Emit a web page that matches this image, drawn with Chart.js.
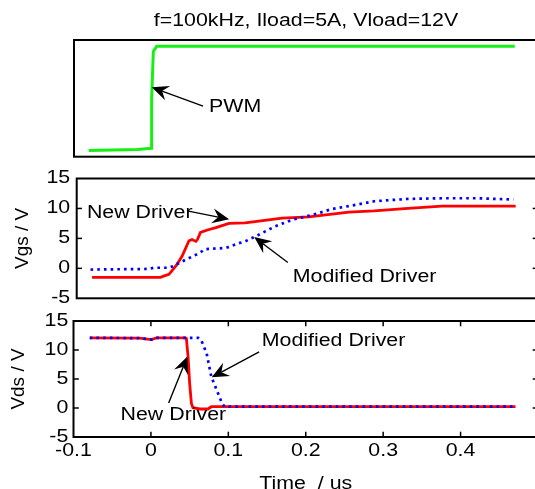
<!DOCTYPE html>
<html><head><meta charset="utf-8">
<script src="https://cdn.jsdelivr.net/npm/chart.js@4.4.1/dist/chart.umd.min.js"></script>
<style>
html,body{margin:0;padding:0;background:#fff;overflow:hidden;width:535px;height:489px;}
canvas{position:absolute;left:0;top:0;}
</style></head><body>
<canvas id="c1" width="550" height="500"></canvas>
<canvas id="c2" width="550" height="500"></canvas>
<canvas id="c3" width="550" height="500"></canvas>
<script>
// ---------- data ----------
const titleText = 'f=100kHz, Iload=5A, Vload=12V';
const seriesNames = ['New Driver', 'Modified Driver'];
const xTitle = 'Time  / us';
const vgsTitle = 'Vgs / V';
const vdsTitle = 'Vds / V';
const timeTicks = [-0.1, 0, 0.1, 0.2, 0.3, 0.4];
const voltTicks = [-5, 0, 5, 10, 15];

const pwmTime = [-0.081, -0.018, 0.0, 0.0004, 0.0026, 0.007, 0.47];
const pwmVolt = [0.0, 0.05, 0.11, 2.5, 4.75, 5.0, 5.0];

const vgsNewTime = [-0.080, 0.009, 0.013, 0.020, 0.029, 0.037, 0.046, 0.050, 0.055, 0.057, 0.061, 0.070, 0.081, 0.098, 0.119, 0.137, 0.167, 0.202, 0.254, 0.287, 0.331, 0.375, 0.471];
const vgsNewVolt = [-1.5, -1.5, -1.3, -1.0, 0.4, 2.0, 4.6, 4.8, 4.5, 4.8, 6.0, 6.4, 6.8, 7.5, 7.6, 7.9, 8.4, 8.6, 9.4, 9.6, 10.0, 10.4, 10.4];
const vgsModTime = [-0.082, -0.006, 0.0, 0.02, 0.026, 0.041, 0.059, 0.067, 0.078, 0.094, 0.111, 0.119, 0.132, 0.158, 0.180, 0.206, 0.232, 0.254, 0.287, 0.331, 0.375, 0.420, 0.468];
const vgsModVolt = [-0.2, -0.1, 0.1, 0.1, 0.4, 1.4, 2.5, 3.2, 3.3, 3.4, 4.2, 4.5, 5.3, 7.0, 8.1, 8.9, 9.9, 10.4, 11.2, 11.6, 11.7, 11.7, 11.5];

const vdsNewTime = [-0.079, -0.015, 0.0005, 0.007, 0.0445, 0.0458, 0.048, 0.050, 0.0523, 0.0543, 0.063, 0.0737, 0.078, 0.471];
const vdsNewVolt = [12.1, 12.05, 11.8, 12.1, 12.1, 12.0, 8.8, 4.3, 0.8, 0.05, -0.17, -0.17, 0.22, 0.22];
const vdsModTime = [-0.079, -0.015, 0.0005, 0.007, 0.061, 0.065, 0.072, 0.078, 0.085, 0.091, 0.095, 0.471];
const vdsModVolt = [12.1, 12.05, 11.8, 12.1, 12.1, 11.7, 9.4, 5.4, 3.1, 1.1, 0.22, 0.22];

// annotation positions (data coordinates)
const pwmNotes = [{text: 'PWM', tip: [0.0005, 3.03], tail: [0.0669, 2.13], at: [0.0746, 2.06]}];
const vgsNotes = [
  {text: seriesNames[0], tip: [0.0983, 8.2], tail: [0.0453, 9.55], at: [-0.0867, 9.28]},
  {text: seriesNames[1], tip: [0.1309, 5.22], tail: [0.1746, 0.97], at: [0.1811, -1.5]}
];
const vdsNotes = [
  {text: seriesNames[1], tip: [0.0785, 5.29], tail: [0.1398, 9.66], at: [0.1432, 11.55]},
  {text: seriesNames[0], tip: [0.0471, 8.88], tail: [0.0229, 0.86], at: [-0.0392, -1.3]}
];

// ---------- styling ----------
const FONT = "'Liberation Sans', Arial, Helvetica, sans-serif";
const FS = 17.5;
const STRETCH = 1.22;
Chart.defaults.font.family = FONT;
Chart.defaults.font.size = FS;
Chart.defaults.color = '#000';

const pts = (ts, vs) => ts.map((t, i) => ({x: t, y: vs[i]}));

const stretchPlugin = {
  id: 'stretch',
  beforeInit(chart) {
    const ctx = chart.ctx;
    const orig = ctx.fillText.bind(ctx);
    ctx.fillText = function (text, x, y, maxWidth) {
      const m = ctx.getTransform();
      if (Math.abs(m.b) > 1e-6 || Math.abs(m.c) > 1e-6) {
        return maxWidth === undefined ? orig(text, x, y) : orig(text, x, y, maxWidth);
      }
      ctx.save();
      ctx.translate(x, y);
      ctx.scale(STRETCH, 1);
      if (maxWidth === undefined) orig(text, 0, 0); else orig(text, 0, 0, maxWidth / STRETCH);
      ctx.restore();
    };
  }
};

const framePlugin = {
  id: 'frame',
  afterDraw(chart, args, opts) {
    const {left, right, top, bottom} = chart.chartArea;
    const ctx = chart.ctx;
    const L = 5.3;
    ctx.save();
    ctx.strokeStyle = '#000';
    ctx.lineWidth = 1.5;
    const seg = (a, b, c, d) => { ctx.beginPath(); ctx.moveTo(a, b); ctx.lineTo(c, d); ctx.stroke(); };
    if (opts.yTicks) {
      const ys = chart.scales.y;
      ys.ticks.forEach(t => {
        if (t.value <= ys.min || t.value >= ys.max) return;
        const y = ys.getPixelForValue(t.value);
        seg(left, y, left + L, y);
        seg(right, y, right - L, y);
      });
    }
    if (opts.xTicks) {
      const xs = chart.scales.x;
      xs.ticks.forEach(t => {
        if (t.value <= xs.min || t.value >= xs.max) return;
        const x = xs.getPixelForValue(t.value);
        seg(x, bottom, x, bottom - L);
        seg(x, top, x, top + L);
      });
    }
    ctx.lineWidth = 2;
    ctx.strokeRect(left, top, right - left, bottom - top);
    ctx.restore();
  }
};

const arrowPlugin = {
  id: 'arrows',
  afterDatasetsDraw(chart, args, opts) {
    const ctx = chart.ctx, xs = chart.scales.x, ys = chart.scales.y;
    (opts.items || []).forEach(a => {
      const tx = xs.getPixelForValue(a.tip[0]), ty = ys.getPixelForValue(a.tip[1]);
      const sx = xs.getPixelForValue(a.tail[0]), sy = ys.getPixelForValue(a.tail[1]);
      const dx = tx - sx, dy = ty - sy, len = Math.hypot(dx, dy);
      const ux = dx / len, uy = dy / len, px = -uy, py = ux;
      const hl = 17, hw = 7.5, notch = 11;
      ctx.save();
      ctx.strokeStyle = '#000';
      ctx.fillStyle = '#000';
      ctx.lineWidth = 1.4;
      ctx.beginPath();
      ctx.moveTo(sx, sy);
      ctx.lineTo(tx - ux * notch, ty - uy * notch);
      ctx.stroke();
      ctx.beginPath();
      ctx.moveTo(tx, ty);
      ctx.lineTo(tx - ux * hl + px * hw, ty - uy * hl + py * hw);
      ctx.lineTo(tx - ux * notch, ty - uy * notch);
      ctx.lineTo(tx - ux * hl - px * hw, ty - uy * hl - py * hw);
      ctx.closePath();
      ctx.fill();
      ctx.font = FS + 'px ' + FONT;
      ctx.textAlign = 'left';
      ctx.textBaseline = 'middle';
      ctx.fillText(a.text, xs.getPixelForValue(a.at[0]), ys.getPixelForValue(a.at[1]));
      ctx.restore();
    });
  }
};

const W = 550, H = 500;
const X_MIN = -0.1, X_MAX = 0.5;
const RIGHT = 538;

function baseOptions(padding) {
  return {
    responsive: false, maintainAspectRatio: false, animation: false, events: [], devicePixelRatio: 1,
    layout: {padding},
    plugins: {legend: {display: false}, tooltip: {enabled: false}, title: {display: false}}
  };
}
function yAxis(width, labelPad, title, titlePad) {
  return {
    type: 'linear', min: -5, max: 15,
    afterBuildTicks: s => { s.ticks = voltTicks.map(v => ({value: v})); },
    afterFit: s => { s.width = width; },
    grid: {display: false, drawTicks: false},
    border: {display: false},
    ticks: {padding: labelPad, callback: v => String(v), font: {size: FS}},
    title: {display: true, text: title, font: {size: 19}, padding: {top: titlePad, bottom: 0}}
  };
}
const redLine = (data) => ({label: seriesNames[0], data, borderColor: '#ff0000', borderWidth: 2.8, pointRadius: 0, tension: 0, order: 2});
const blueLine = (data) => ({label: seriesNames[1], data, borderColor: '#0000ff', borderWidth: 2.7, borderDash: [2.6, 4.1], pointRadius: 0, tension: 0, order: 1});

// ---------- top: PWM ----------
const o1 = baseOptions({left: 74, right: W - RIGHT, top: 0, bottom: H - 156.7});
o1.plugins.title = {display: true, text: titleText, fullSize: false, color: '#000',
  font: {size: FS, weight: 'normal'}, padding: {top: 11, bottom: 8}};
o1.plugins.frame = {xTicks: false, yTicks: false};
o1.plugins.arrows = {items: pwmNotes};
o1.scales = {
  x: {type: 'linear', display: false, min: X_MIN, max: X_MAX},
  y: {type: 'linear', display: false, min: -0.3, max: 5.3}
};
new Chart(document.getElementById('c1'), {
  type: 'line',
  data: {datasets: [{label: 'PWM', data: pts(pwmTime, pwmVolt), borderColor: '#14f014', borderWidth: 3, pointRadius: 0, tension: 0}]},
  options: o1,
  plugins: [stretchPlugin, framePlugin, arrowPlugin]
});

// ---------- middle: Vgs ----------
const o2 = baseOptions({left: 0, right: W - RIGHT, top: 178.5, bottom: H - 298.3});
o2.plugins.frame = {xTicks: false, yTicks: true};
o2.plugins.arrows = {items: vgsNotes};
o2.scales = {
  x: {type: 'linear', display: false, min: X_MIN, max: X_MAX},
  y: yAxis(76.7, 6.5, vgsTitle, 11)
};
new Chart(document.getElementById('c2'), {
  type: 'line',
  data: {datasets: [redLine(pts(vgsNewTime, vgsNewVolt)), blueLine(pts(vgsModTime, vgsModVolt))]},
  options: o2,
  plugins: [stretchPlugin, framePlugin, arrowPlugin]
});

// ---------- bottom: Vds ----------
const o3 = baseOptions({left: 0, right: W - RIGHT, top: 321, bottom: 0});
o3.plugins.frame = {xTicks: true, yTicks: true};
o3.plugins.arrows = {items: vdsNotes};
o3.scales = {
  x: {
    type: 'linear', min: X_MIN, max: X_MAX,
    afterBuildTicks: s => { s.ticks = timeTicks.map(v => ({value: v})); },
    afterFit: s => { s.height = H - 437; },
    grid: {display: false, drawTicks: false},
    border: {display: false},
    ticks: {padding: 4, autoSkip: false, maxRotation: 0, callback: v => String(v), font: {size: FS}},
    title: {display: true, text: xTitle, font: {size: FS}, padding: {top: 0, bottom: 5.6}}
  },
  y: yAxis(73.5, 5.2, vdsTitle, 7.6)
};
new Chart(document.getElementById('c3'), {
  type: 'line',
  data: {datasets: [redLine(pts(vdsNewTime, vdsNewVolt)), blueLine(pts(vdsModTime, vdsModVolt))]},
  options: o3,
  plugins: [stretchPlugin, framePlugin, arrowPlugin]
});
</script>
</body></html>
